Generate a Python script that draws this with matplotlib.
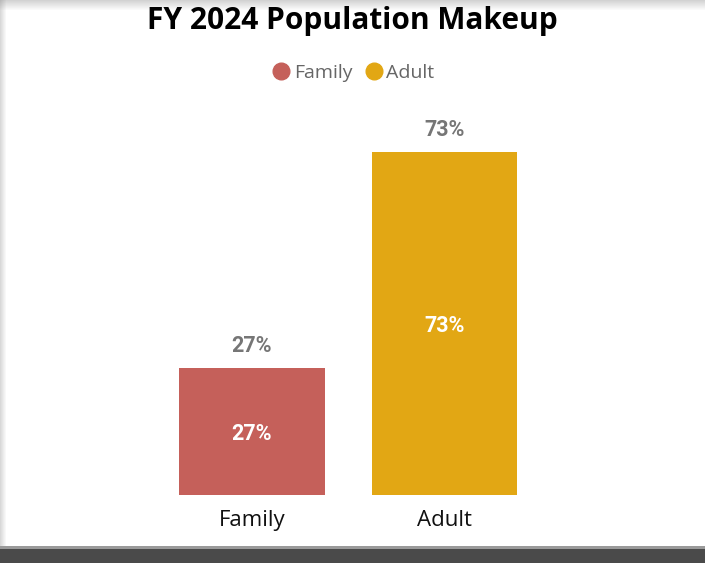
import matplotlib
matplotlib.use("Agg")
import matplotlib.pyplot as plt
from matplotlib.patches import Rectangle
from matplotlib.lines import Line2D
import numpy as np

categories = ["Family", "Adult"]
values = [27, 73]
labels = ["27%", "73%"]
colors = ["#C5605A", "#E2A714"]
title = "FY 2024 Population Makeup"

W, H = 705, 563
fig = plt.figure(figsize=(W/100, H/100), dpi=100)
fig.patch.set_facecolor("white")

# shadow / frame effects
bg = fig.add_axes([0, 0, 1, 1], zorder=-10)
bg.set_xlim(0, W); bg.set_ylim(H, 0); bg.axis("off")
for i in range(10):
    a = 0.35 * (1 - i / 10)
    bg.add_patch(Rectangle((0, i), W, 1, color="#808080", alpha=a, lw=0))
for i in range(6):
    a = 0.3 * (1 - i / 6)
    bg.add_patch(Rectangle((i, 0), 1, H, color="#808080", alpha=a, lw=0))
bg.add_patch(Rectangle((0, 546), W, 3, color="#9a9a9a", lw=0))
bg.add_patch(Rectangle((0, 549), W, 14, color="#4a4a4a", lw=0))

ax = fig.add_axes([155.5/W, (H-495)/H, (541-155.5)/W, 395/H])
x = np.arange(len(categories))
bars = ax.bar(x, values, width=0.756, color=colors)
ax.set_xlim(-0.5, 1.5)
ax.set_ylim(0, 84)
ax.axis("off")

for xi, v, lab in zip(x, values, labels):
    ax.annotate(lab, (xi, v), xytext=(0, 8), textcoords="offset points",
                ha="center", va="bottom", fontsize=15.5, fontweight="bold",
                color="#767676", family="Roboto")
    ax.annotate(lab, (xi, v/2), xytext=(0, -2), textcoords="offset points",
                ha="center", va="center", fontsize=15.5,
                fontweight="bold", color="white", family="Roboto")
    ax.annotate(categories[int(xi)], (xi, 0), xytext=(0, -11), textcoords="offset points",
                ha="center", va="top", fontsize=16, color="#111111", family="Open Sans")

fig.text(352/W, 1 - 21/H, title, ha="center", va="center", fontsize=21.5,
         fontweight="bold", color="black", family="Open Sans")

handles = [Line2D([], [], marker="o", ls="", markersize=12, color=c) for c in colors]
leg = fig.legend(handles, categories, loc="center", bbox_to_anchor=(348/W, 1 - 73/H),
                 ncol=2, frameon=False, handletextpad=-0.35, columnspacing=0.1,
                 prop={"family": "Open Sans", "size": 14})
for t in leg.get_texts():
    t.set_color("#666666")

fig.savefig("out.png", dpi=100, facecolor="white")
